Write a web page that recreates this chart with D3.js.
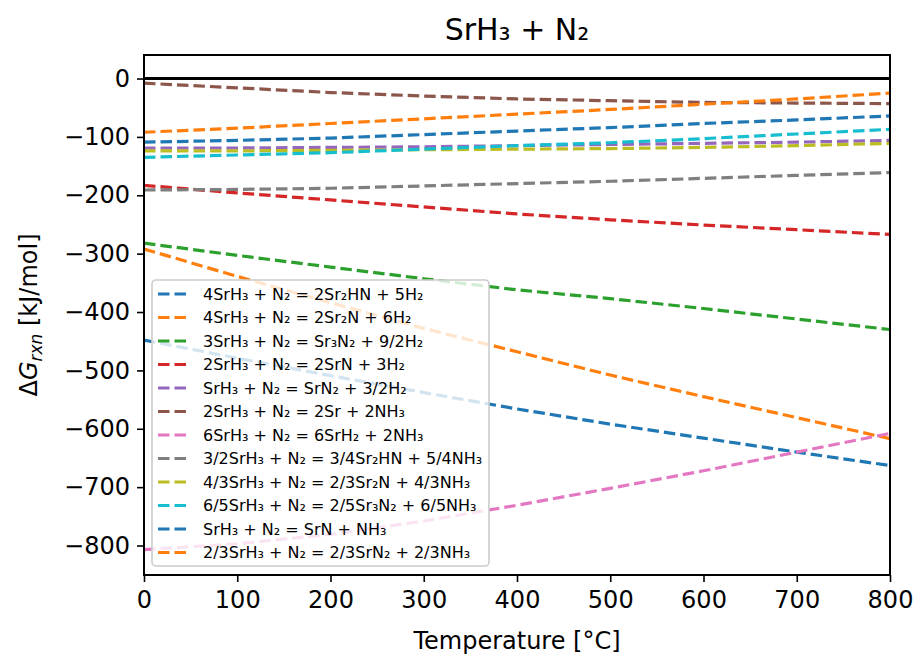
<!DOCTYPE html>
<html>
<head>
<meta charset="utf-8">
<script src="https://cdn.jsdelivr.net/npm/d3@7"></script>
<style>
  html, body { margin: 0; padding: 0; background: #fff; }
  svg text { font-family: "DejaVu Sans", sans-serif; }
</style>
</head>
<body>
<svg id="chart" width="919" height="656"></svg>
<script>
const temperatures = [0, 100, 200, 300, 400, 500, 600, 700, 800];

const reactionLabels = [
  "4SrH₃ + N₂ = 2Sr₂HN + 5H₂",
  "4SrH₃ + N₂ = 2Sr₂N + 6H₂",
  "3SrH₃ + N₂ = Sr₃N₂ + 9/2H₂",
  "2SrH₃ + N₂ = 2SrN + 3H₂",
  "SrH₃ + N₂ = SrN₂ + 3/2H₂",
  "2SrH₃ + N₂ = 2Sr + 2NH₃",
  "6SrH₃ + N₂ = 6SrH₂ + 2NH₃",
  "3/2SrH₃ + N₂ = 3/4Sr₂HN + 5/4NH₃",
  "4/3SrH₃ + N₂ = 2/3Sr₂N + 4/3NH₃",
  "6/5SrH₃ + N₂ = 2/5Sr₃N₂ + 6/5NH₃",
  "SrH₃ + N₂ = SrN + NH₃",
  "2/3SrH₃ + N₂ = 2/3SrN₂ + 2/3NH₃"
];

const dG_Sr2HN_H2   = [-448, -479, -509, -538, -566, -592, -616, -640, -663];
const dG_Sr2N_H2    = [-292, -339, -384, -428, -468, -508, -545, -581, -617];
const dG_Sr3N2_H2   = [-282, -303, -323, -343, -362, -377, -394, -412, -430];
const dG_SrN_H2     = [-183, -196, -208, -220, -232, -242, -251, -259, -267];
const dG_SrN2_H2    = [-119, -119, -118, -117, -115, -113, -111, -109, -106];
const dG_Sr_NH3     = [-8, -16, -24, -30, -35, -38, -41, -42, -43];
const dG_SrH2_NH3   = [-807, -797, -781, -758, -731, -702, -672, -640, -608];
const dG_Sr2HN_NH3  = [-191, -190, -188, -184, -180, -176, -171, -166, -161];
const dG_Sr2N_NH3   = [-124, -124, -123, -122, -121, -120, -118, -115, -111];
const dG_Sr3N2_NH3  = [-135, -131, -127, -121, -115, -110, -103, -95, -87];
const dG_SrN_NH3    = [-109, -106, -102, -96, -90, -84, -77, -71, -64];
const dG_SrN2_NH3   = [-92, -85, -77, -69, -61, -53, -44, -35, -25];

const seriesValues = [dG_Sr2HN_H2, dG_Sr2N_H2, dG_Sr3N2_H2, dG_SrN_H2, dG_SrN2_H2, dG_Sr_NH3,
  dG_SrH2_NH3, dG_Sr2HN_NH3, dG_Sr2N_NH3, dG_Sr3N2_NH3, dG_SrN_NH3, dG_SrN2_NH3];

const xTicks = [0, 100, 200, 300, 400, 500, 600, 700, 800];
const yTicks = [0, -100, -200, -300, -400, -500, -600, -700, -800];

const palette = ["#1f77b4", "#ff7f0e", "#2ca02c", "#d62728", "#9467bd",
  "#8c564b", "#e377c2", "#7f7f7f", "#bcbd22", "#17becf"];

(function () {
const svg = d3.select("#chart");
const pL = 144, pR = 890, pT = 55, pB = 575;

const x = d3.scaleLinear().domain([0, 800]).range([pL, pR]);
const y = d3.scaleLinear().domain([-850.5, 40.3]).range([pB, pT]);

svg.append("defs").append("clipPath").attr("id", "clip")
  .append("rect").attr("x", pL).attr("y", pT).attr("width", pR - pL).attr("height", pB - pT);

const plot = svg.append("g").attr("clip-path", "url(#clip)");

plot.append("line")
  .attr("x1", pL).attr("x2", pR)
  .attr("y1", y(0)).attr("y2", y(0))
  .attr("stroke", "#000").attr("stroke-width", 3);

const line = d3.line().x(d => x(d[0])).y(d => y(d[1]));

seriesValues.forEach((vals, i) => {
  plot.append("path")
    .datum(temperatures.map((t, j) => [t, vals[j]]))
    .attr("d", line)
    .attr("fill", "none")
    .attr("stroke", palette[i % 10])
    .attr("stroke-width", 3.2)
    .attr("stroke-dasharray", "11.5,5");
});

const fmt = d => d < 0 ? "\u2212" + Math.abs(d) : String(d);
const xAxis = svg.append("g").attr("transform", `translate(0,${pB})`)
  .call(d3.axisBottom(x).tickValues(xTicks).tickFormat(fmt).tickSize(7).tickPadding(9));
const yAxis = svg.append("g").attr("transform", `translate(${pL},0)`)
  .call(d3.axisLeft(y).tickValues(yTicks).tickFormat(fmt).tickSize(7).tickPadding(7));

[xAxis, yAxis].forEach(g => {
  g.select(".domain").remove();
  g.selectAll(".tick line").attr("stroke", "#000").attr("stroke-width", 1.6);
  g.selectAll(".tick text").attr("fill", "#000").style("font-size", "24px")
    .style("font-family", "DejaVu Sans");
});

svg.append("rect").attr("x", pL).attr("y", pT)
  .attr("width", pR - pL).attr("height", pB - pT)
  .attr("fill", "none").attr("stroke", "#000").attr("stroke-width", 2);

const legend = svg.append("g");
const lgX = 152, lgY = 280, lgW = 337, lgH = 286, rowH = 23.5, firstRow = 294;
legend.append("rect")
  .attr("x", lgX).attr("y", lgY).attr("width", lgW).attr("height", lgH)
  .attr("rx", 4).attr("ry", 4)
  .attr("fill", "#fff").attr("fill-opacity", 0.8)
  .attr("stroke", "#cccccc").attr("stroke-width", 1.6);

reactionLabels.forEach((lab, i) => {
  const cy = firstRow + i * rowH;
  legend.append("line")
    .attr("x1", 158).attr("x2", 191).attr("y1", cy).attr("y2", cy)
    .attr("stroke", palette[i % 10]).attr("stroke-width", 3.2)
    .attr("stroke-dasharray", "11.5,5");
  legend.append("text")
    .attr("x", 203).attr("y", cy).attr("dy", "0.36em")
    .style("font-size", "16px").attr("fill", "#000")
    .text(lab);
});

svg.append("text").attr("x", (pL + pR) / 2).attr("y", 40)
  .attr("text-anchor", "middle").style("font-size", "30px").attr("fill", "#000")
  .text("SrH₃ + N₂");

svg.append("text").attr("x", (pL + pR) / 2).attr("y", 649)
  .attr("text-anchor", "middle").style("font-size", "24px").attr("fill", "#000")
  .text("Temperature [°C]");

const yl = svg.append("text")
  .attr("transform", `translate(37,${(pT + pB) / 2}) rotate(-90)`)
  .attr("text-anchor", "middle").style("font-size", "24px").attr("fill", "#000");
yl.append("tspan").text("Δ");
yl.append("tspan").style("font-style", "italic").text("G");
yl.append("tspan").style("font-style", "italic").style("font-size", "17px")
  .attr("dy", "5").text("rxn");
yl.append("tspan").attr("dy", "-5").text(" [kJ/mol]");
})();
</script>
</body>
</html>
